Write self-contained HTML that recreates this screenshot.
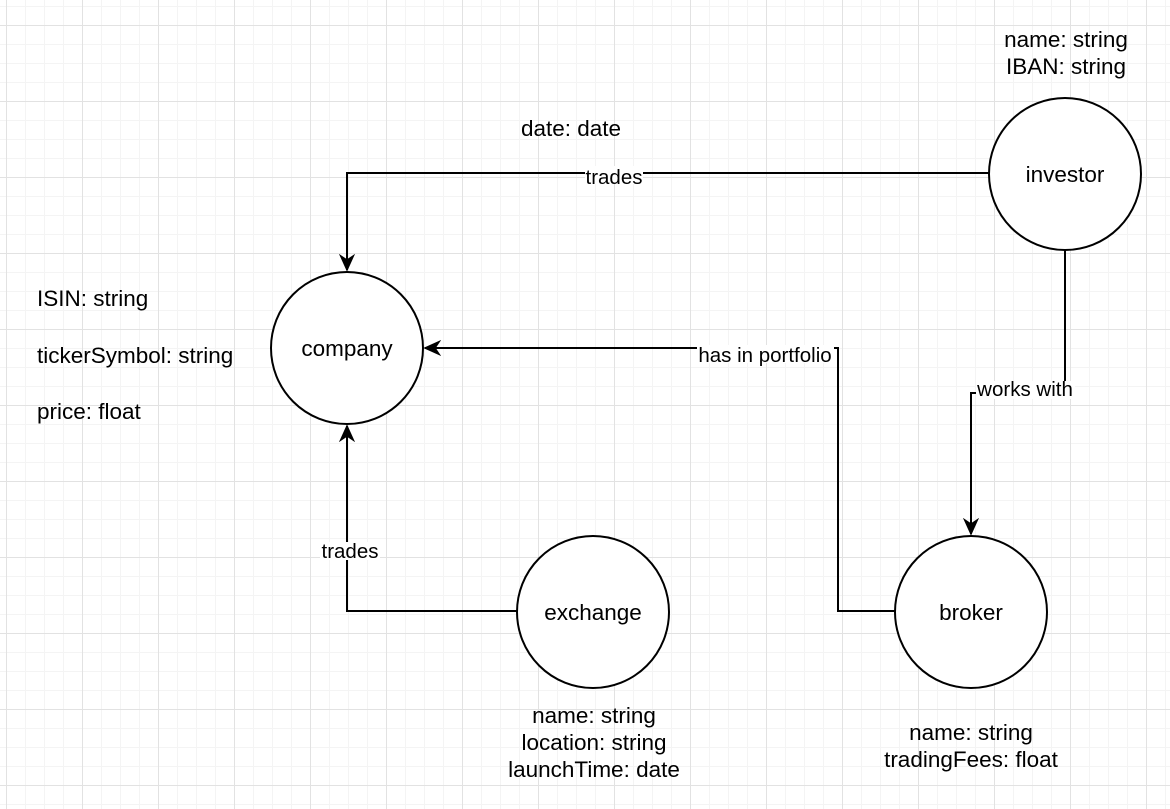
<!DOCTYPE html>
<html><head><style>
body{margin:0;width:1170px;height:809px;overflow:hidden;background:#fff;
background-image:
linear-gradient(#e2e2e2 1px,transparent 1px),linear-gradient(90deg,#e2e2e2 1px,transparent 1px),
linear-gradient(#f4f4f4 1px,transparent 1px),linear-gradient(90deg,#f4f4f4 1px,transparent 1px);
background-size:76px 76px,76px 76px,19px 19px,19px 19px;
background-position:6px 25px,6px 25px,6px 6px,6px 6px;}
svg{position:absolute;left:0;top:0}
text{font-family:"Liberation Sans",sans-serif;fill:#000}
</style></head><body>
<svg width="1170" height="809">
<defs>
<marker id="b" viewBox="0 0 10 10" markerWidth="18" markerHeight="18" refX="9" refY="5" orient="auto" markerUnits="userSpaceOnUse"><path d="M0,0.5 L10,5 L0,9.5 L3,5z" fill="#000"/></marker></defs>
<g stroke="#000" stroke-width="2" fill="none">
<polyline points="989,173 347,173 347,270" marker-end="url(#b)"/>
<polyline points="895,611 838,611 838,348 425,348" marker-end="url(#b)"/>
<polyline points="1065,250 1065,393 971,393 971,534" marker-end="url(#b)"/>
<polyline points="517,611 347,611 347,426" marker-end="url(#b)"/>
<g fill="#fff">
<circle cx="347" cy="348" r="76"/><circle cx="1065" cy="174" r="76"/>
<circle cx="593" cy="612" r="76"/><circle cx="971" cy="612" r="76"/></g>
</g>
<g font-size="20.5" text-anchor="middle">
<rect x="585" y="166" width="58" height="18" fill="#fff"/><text x="614" y="184">trades</text>
<rect x="697" y="345" width="137" height="18" fill="#fff"/><text x="765" y="362">has in portfolio</text>
<rect x="976" y="381" width="99" height="18" fill="#fff"/><text x="1025" y="396">works with</text>
<rect x="320" y="542" width="60" height="18" fill="#fff"/><text x="350" y="558">trades</text>
</g>
<g font-size="22.5" text-anchor="middle">
<text x="347" y="356">company</text><text x="1065" y="182">investor</text>
<text x="593" y="620">exchange</text><text x="971" y="620">broker</text>
<text x="1066" y="47">name: string</text><text x="1066" y="74">IBAN: string</text>
<text x="571" y="136">date: date</text>
<text x="594" y="723">name: string</text><text x="594" y="750">location: string</text><text x="594" y="777">launchTime: date</text>
<text x="971" y="740">name: string</text><text x="971" y="767">tradingFees: float</text>
</g>
<g font-size="22.5">
<text x="37" y="306">ISIN: string</text><text x="37" y="363">tickerSymbol: string</text><text x="37" y="419">price: float</text>
</g>
</svg>
</body></html>
